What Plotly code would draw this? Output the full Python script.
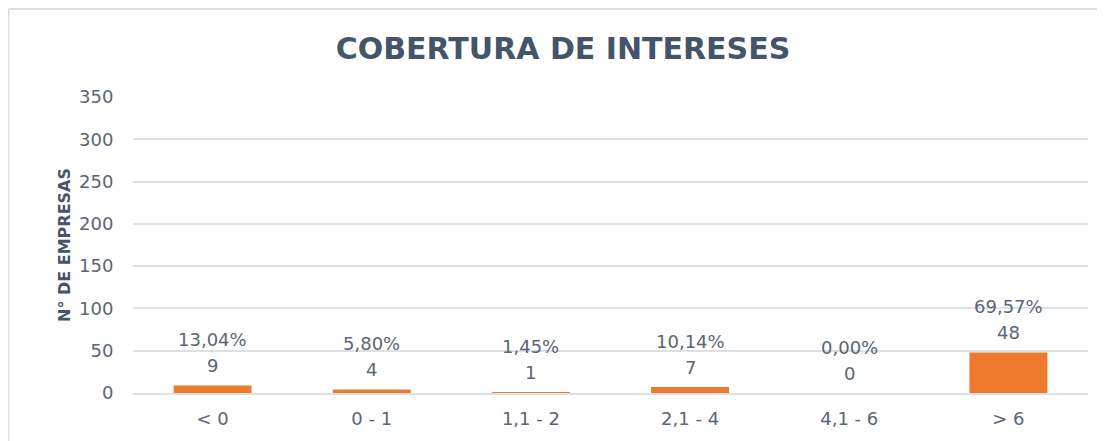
import plotly.graph_objects as go

categories = ["< 0", "0 - 1", "1,1 - 2", "2,1 - 4", "4,1 - 6", "> 6"]
empresas = [9, 4, 1, 7, 0, 48]
porcentajes = ["13,04%", "5,80%", "1,45%", "10,14%", "0,00%", "69,57%"]

FONT = "DejaVu Sans"
TXT = "#5B6573"

# page body has an 8px margin: figure is drawn from (8, 8)
W, H = 1089, 433
L, R, T, B = 125, 9, 89, 48
PW, PH = W - L - R, H - T - B

fig = go.Figure(go.Bar(
    x=categories, y=empresas,
    marker=dict(color="#EE7A2D", line=dict(width=0)),
))

for c, v, p in zip(categories, empresas, porcentajes):
    fig.add_annotation(x=c, y=v, text=str(v), showarrow=False, yanchor="middle",
                       yshift=20, font=dict(family=FONT, size=18, color=TXT))
    fig.add_annotation(x=c, y=v, text=p, showarrow=False, yanchor="middle",
                       yshift=46, font=dict(family=FONT, size=18, color=TXT))

fig.update_layout(
    width=W, height=H,
    margin=dict(l=L, r=R, t=T, b=B, autoexpand=False),
    paper_bgcolor="white", plot_bgcolor="white",
    bargap=0.51,
    showlegend=False,
    title=dict(text="<b>COBERTURA DE INTERESES</b>", x=555 / W, xref="container",
               xanchor="center", y=1 - 40 / H, yanchor="middle", yref="container",
               font=dict(family=FONT, size=30, color="#44546A")),
    font=dict(family=FONT, color=TXT),
)
fig.update_yaxes(range=[0, 350], dtick=50, showgrid=True, gridcolor="#DDE0E5", gridwidth=1.5,
                 zeroline=False, showline=False, automargin=False,
                 ticks="outside", ticklen=15, tickcolor="rgba(0,0,0,0)",
                 tickfont=dict(family=FONT, size=18, color=TXT),
                 title=dict(text="<b>N° DE EMPRESAS</b>", standoff=4,
                            font=dict(family=FONT, size=16, color="#44546A")))
fig.update_xaxes(showgrid=False, showline=True, linecolor="#DDE0E5", linewidth=1.5,
                 automargin=False,
                 ticks="outside", ticklen=9, tickcolor="rgba(0,0,0,0)",
                 tickfont=dict(family=FONT, size=18, color=TXT))

# frame: top and left edges only
x_left = -L / PW + 0.5 / PW
y_top = 1 + T / PH - 1 / PH
fig.add_shape(type="line", xref="paper", yref="paper",
              x0=x_left, x1=1 + R / PW, y0=y_top, y1=y_top,
              line=dict(color="#DCDFE4", width=2), layer="below")
fig.add_shape(type="line", xref="paper", yref="paper",
              x0=x_left, x1=x_left, y0=-B / PH, y1=y_top,
              line=dict(color="#DCDFE4", width=2), layer="below")

fig.write_html("out.html")
